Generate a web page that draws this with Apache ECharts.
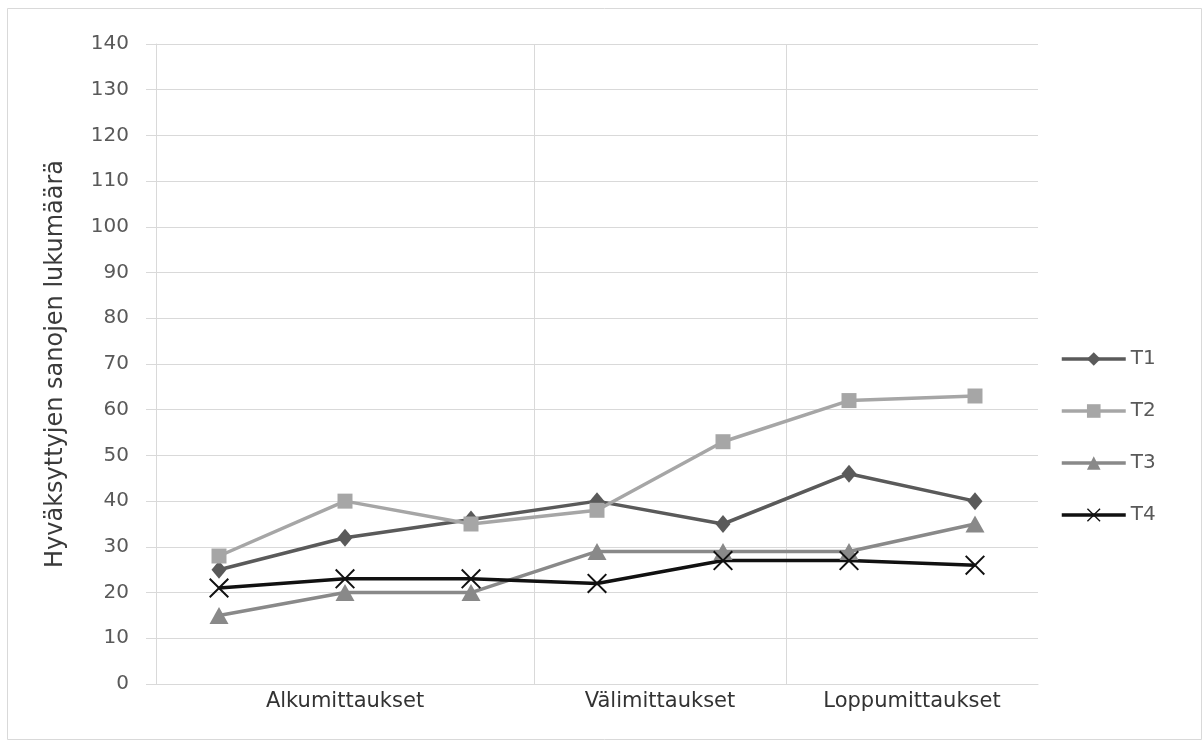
<!DOCTYPE html>
<html>
<head>
<meta charset="utf-8">
<script src="https://cdn.jsdelivr.net/npm/echarts@6/dist/echarts.min.js"></script>
<style>
  html, body { margin: 0; padding: 0; background: #fff; }
  #chart { width: 1203px; height: 742px; }
</style>
</head>
<body>
<div id="chart"></div>
<script>
// Measurement rounds: three groups of measurement points
const groupNames = ['Alkumittaukset', 'Välimittaukset', 'Loppumittaukset'];
const groupSizes = [3, 2, 2];
const points = ['1', '2', '3', '4', '5', '6', '7'];

// Accepted word counts per test
const t1 = [25, 32, 36, 40, 35, 46, 40];
const t2 = [28, 40, 35, 38, 53, 62, 63];
const t3 = [15, 20, 20, 29, 29, 29, 35];
const t4 = [21, 23, 23, 22, 27, 27, 26];

const yTicks = { min: 0, max: 140, step: 10 };

// group starting indices and label centres on a 0..n value scale
const groupStarts = [];
const groupCentres = {};
let acc = 0;
groupSizes.forEach((n, i) => {
  groupStarts.push(acc);
  groupCentres[String(acc + n / 2)] = groupNames[i];
  acc += n;
});

const FONT = 'DejaVu Sans';
const crossPath = 'path://M0,1.4L1.4,0L10,8.6L18.6,0L20,1.4L11.4,10L20,18.6L18.6,20L10,11.4L1.4,20L0,18.6L8.6,10Z';

const chart = echarts.init(document.getElementById('chart'));
chart.setOption({
  animation: false,
  backgroundColor: '#fff',
  textStyle: { fontFamily: FONT },
  graphic: [{
    type: 'rect',
    shape: { x: 7.5, y: 8.5, width: 1194, height: 731 },
    style: { fill: 'none', stroke: '#d9d9d9', lineWidth: 1 },
    silent: true
  }],
  grid: { left: 156, right: 165, top: 44, bottom: 58, containLabel: false },
  legend: {
    orient: 'vertical',
    left: 1055,
    top: 344,
    itemWidth: 64,
    itemHeight: 17,
    itemGap: 32,
    lineStyle: { width: 3.5 },
    textStyle: { fontFamily: FONT, fontSize: 20, color: '#595959' },
    data: ['T1', 'T2', 'T3', 'T4']
  },
  xAxis: [{
    type: 'category',
    data: points,
    boundaryGap: true,
    axisLine: { show: true, lineStyle: { color: '#d9d9d9', width: 1 } },
    axisTick: { show: false },
    axisLabel: { show: false },
    splitLine: {
      show: true,
      interval: (idx) => groupStarts.indexOf(idx) > 0,
      showMaxLine: false,
      lineStyle: { color: '#d9d9d9', width: 1 }
    }
  }, {
    type: 'value',
    min: 0,
    max: points.length,
    interval: 0.5,
    position: 'bottom',
    axisLine: { show: false },
    axisTick: { show: false },
    splitLine: { show: false },
    axisLabel: {
      margin: 7,
      fontFamily: FONT,
      fontSize: 21,
      color: '#333333',
      formatter: (v) => groupCentres[String(v)] || ''
    }
  }],
  yAxis: {
    type: 'value',
    min: yTicks.min,
    max: yTicks.max,
    interval: yTicks.step,
    name: 'Hyväksyttyjen sanojen lukumäärä',
    nameLocation: 'middle',
    nameGap: 88,
    nameTextStyle: { fontFamily: FONT, fontSize: 24, color: '#3a3a3a' },
    axisLine: { show: true, lineStyle: { color: '#d9d9d9', width: 1 } },
    axisTick: { show: true, length: 10, lineStyle: { color: '#d9d9d9' } },
    axisLabel: { margin: 27, fontFamily: FONT, fontSize: 20, color: '#595959' },
    splitLine: { show: true, lineStyle: { color: '#d9d9d9', width: 1 } }
  },
  series: [{
    name: 'T1', type: 'line', data: t1,
    symbol: 'diamond', symbolSize: [15, 18],
    lineStyle: { color: '#5a5a5a', width: 3.5 },
    itemStyle: { color: '#5a5a5a' }
  }, {
    name: 'T2', type: 'line', data: t2,
    symbol: 'rect', symbolSize: 15,
    lineStyle: { color: '#a6a6a6', width: 3.5 },
    itemStyle: { color: '#a6a6a6' }
  }, {
    name: 'T3', type: 'line', data: t3,
    symbol: 'triangle', symbolSize: [19, 17],
    lineStyle: { color: '#898989', width: 3.5 },
    itemStyle: { color: '#898989' }
  }, {
    name: 'T4', type: 'line', data: t4,
    symbol: crossPath, symbolSize: 20,
    lineStyle: { color: '#111111', width: 3.5 },
    itemStyle: { color: '#111111' }
  }]
});
</script>
</body>
</html>
